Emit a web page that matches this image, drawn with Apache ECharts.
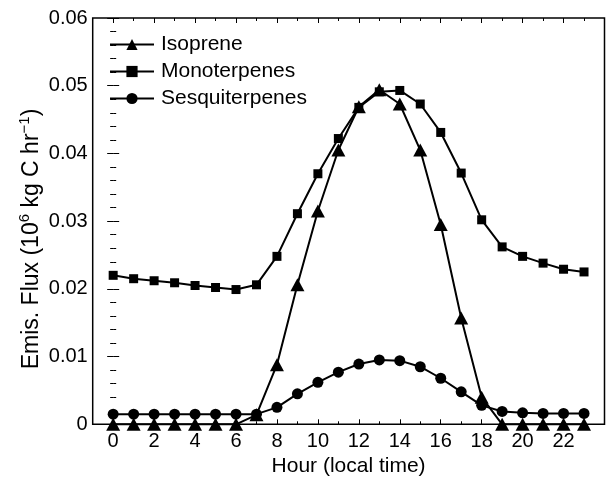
<!DOCTYPE html>
<html>
<head>
<meta charset="utf-8">
<script src="https://cdn.jsdelivr.net/npm/echarts@6/dist/echarts.min.js"></script>
<style>html,body{margin:0;padding:0;background:#fff;}#c{width:606px;height:477px;}</style>
</head>
<body>
<div id="c"></div>
<script>
const hours = [0,1,2,3,4,5,6,7,8,9,10,11,12,13,14,15,16,17,18,19,20,21,22,23];
const isoprene = [0,0,0,0,0,0,0,0.0014,0.0088,0.0206,0.0315,0.0405,0.0469,0.0494,0.0473,0.0405,0.0295,0.0157,0.0040,0,0,0,0,0];
const monoterpenes = [0.0220,0.0215,0.0212,0.0209,0.0205,0.0202,0.0199,0.0206,0.0248,0.0311,0.0370,0.0422,0.0468,0.0491,0.0493,0.0473,0.0431,0.0371,0.0302,0.0262,0.0248,0.0238,0.0229,0.0225];
const sesquiterpenes = [0.0015,0.0015,0.0015,0.0015,0.0015,0.0015,0.0015,0.0015,0.0025,0.0045,0.0062,0.0077,0.0089,0.0095,0.0094,0.0085,0.0068,0.0048,0.0028,0.0019,0.0017,0.0016,0.0016,0.0016];
const xLabelValues = [0,2,4,6,8,10,12,14,16,18,20,22];
const xMajorTicks = [0,2,4,6,8,10,12,14,16,18,20,22,24];
const xMinorTicks = [-1,1,3,5,7,9,11,13,15,17,19,21,23];
const yTitle = '{a|Emis. Flux (10}{s|6}{a| kg C hr}{s|−1}{a|)}';

const FONT = 'Liberation Sans';
const FS = 20;
const pair = arr => hours.map((h,i)=>[h,arr[i]]);
const chart = echarts.init(document.getElementById('c'));

function xAx(pos, ticks, len, labels, name){
  return {
    type:'value', position:pos, min:-1, max:24,
    axisLine:{show:false},
    splitLine:{show:false},
    axisTick:{show:true, inside:true, length:len, customValues:ticks, lineStyle:{color:'#000',width:1}},
    axisLabel:labels ? {show:true, customValues:xLabelValues, color:'#000', fontFamily:FONT, fontSize:FS, margin:7} : {show:false},
    name: name||'', nameLocation:'middle', nameGap:30,
    nameTextStyle:{color:'#000', fontFamily:FONT, fontSize:FS+1}
  };
}
function yAx(pos, labels){
  return {
    type:'value', position:pos, min:0, max:0.06, interval:0.01,
    axisLine:{show:false}, splitLine:{show:false},
    axisTick:{show:true, inside:true, length:6, lineStyle:{color:'#000',width:1}},
    minorTick:{show:true, splitNumber:5, length:3, lineStyle:{color:'#000',width:1}},
    axisLabel: labels ? {show:true, color:'#000', fontFamily:FONT, fontSize:FS, margin:5,
      formatter: v => v===0 ? '0' : v.toFixed(2)} : {show:false}
  };
}

const lineCommon = {type:'line', lineStyle:{color:'#000',width:2}, itemStyle:{color:'#000'}, z:2, clip:false, animation:false};

chart.setOption({
  animation:false,
  backgroundColor:'#fff',
  grid:{left:92.7, right:1.5, top:18, bottom:52.7, containLabel:false, outerBoundsMode:'none',
        show:true, borderColor:'#000', borderWidth:1.5, backgroundColor:'transparent'},
  legend:{
    orient:'vertical', left:104, top:29, itemWidth:44, itemHeight:14, itemGap:6,
    textStyle:{color:'#000', fontFamily:FONT, fontSize:FS+1, padding:[0,0,0,2]},
    data:['Isoprene','Monoterpenes','Sesquiterpenes']
  },
  graphic:[{
    type:'text', x:30, y:239, rotation:Math.PI/2, silent:true,
    style:{text:yTitle, align:'center', verticalAlign:'middle', fill:'#000', font:'23px "Liberation Sans"',
      rich:{a:{fontFamily:FONT,fontSize:23,fill:'#000',verticalAlign:'bottom',lineHeight:26},
            s:{fontFamily:FONT,fontSize:15,fill:'#000',verticalAlign:'bottom',lineHeight:26,padding:[0,0,11,0]}}}
  }],
  xAxis:[
    xAx('bottom', xMajorTicks, 5, true, 'Hour (local time)'),
    xAx('bottom', xMinorTicks, 3, false),
    xAx('top', xMajorTicks, 5, false),
    xAx('top', xMinorTicks, 3, false)
  ],
  yAxis:[ yAx('left', true), yAx('right', false) ],
  series:[
    Object.assign({name:'Isoprene', data:pair(isoprene), symbol:'triangle', symbolSize:[14,13]}, lineCommon),
    Object.assign({name:'Monoterpenes', data:pair(monoterpenes), symbol:'rect', symbolSize:9}, lineCommon),
    Object.assign({name:'Sesquiterpenes', data:pair(sesquiterpenes), symbol:'circle', symbolSize:11}, lineCommon)
  ]
});
</script>
</body>
</html>
